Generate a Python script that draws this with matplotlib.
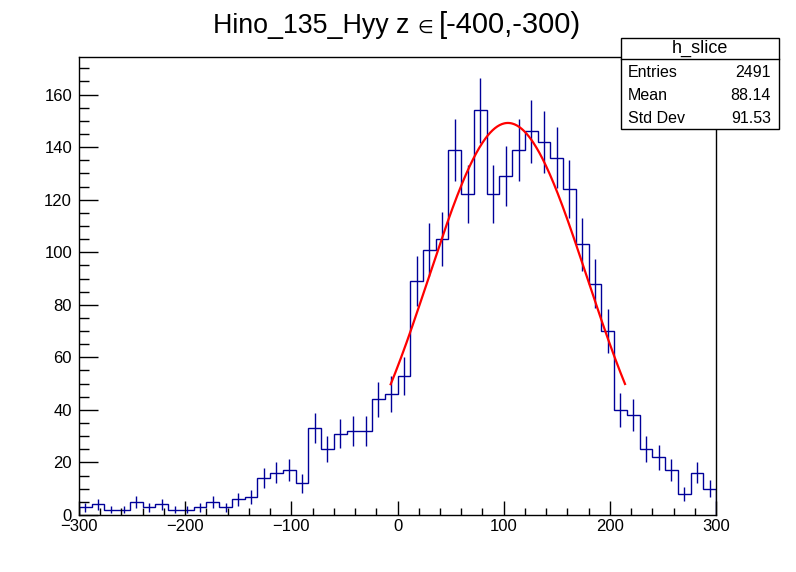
import numpy as np
import matplotlib
matplotlib.use("Agg")
import matplotlib.pyplot as plt
import matplotlib.ticker as ticker

plt.rcParams["font.family"] = ["Liberation Sans", "DejaVu Sans"]

# histogram: 50 bins of width 12 from -300 to 300
bin_lo = -300
bin_hi = 300
counts = [3, 4, 2, 2, 5, 3, 4, 2, 2, 3,
          5, 3, 6, 7, 14, 16, 17, 12, 33, 25,
          31, 32, 32, 44, 46, 53, 89, 101, 105, 139,
          122, 154, 122, 129, 139, 146, 142, 136, 124, 103,
          88, 70, 40, 38, 25, 22, 17, 8, 16, 10]

# gaussian fit (amplitude, mean, sigma) and its range
fit_amp = 149.2
fit_mean = 104.0
fit_sigma = 74.5
fit_range = (-6.4, 214.3)

title_left = "Hino_135_Hyy z"
title_sym = "\u2208"
title_right = "[-400,-300)"
stats_name = "h_slice"
stats_rows = [("Entries", "2491"), ("Mean", "88.14"), ("Std Dev", "91.53")]

HIST_COLOR = "#000099"
W, H = 796, 572

counts = np.array(counts, dtype=float)
edges = np.linspace(bin_lo, bin_hi, len(counts) + 1)
centers = 0.5 * (edges[:-1] + edges[1:])
errors = np.sqrt(counts)

fig = plt.figure(figsize=(W / 100, H / 100), dpi=100)
ax = fig.add_axes([79 / W, 1 - 515 / H, (716 - 79) / W, (515 - 57) / H])

ax.stairs(counts, edges, color=HIST_COLOR, linewidth=1.0)
ax.vlines(centers, counts - errors, counts + errors, color=HIST_COLOR, linewidth=1.0)

xf = np.linspace(fit_range[0], fit_range[1], 300)
yf = fit_amp * np.exp(-0.5 * ((xf - fit_mean) / fit_sigma) ** 2)
ax.plot(xf, yf, color="red", linewidth=1.6)

ax.set_xlim(bin_lo, bin_hi)
ax.set_ylim(0, 174.3)

ax.xaxis.set_major_locator(ticker.MultipleLocator(100))
ax.xaxis.set_minor_locator(ticker.MultipleLocator(20))
ax.yaxis.set_major_locator(ticker.MultipleLocator(20))
ax.yaxis.set_minor_locator(ticker.MultipleLocator(5))
ax.tick_params(axis="x", which="major", direction="in", length=9.8, width=1.0,
               labelsize=12, pad=3, top=False)
ax.tick_params(axis="x", which="minor", direction="in", length=4.9, width=1.0, top=False)
ax.tick_params(axis="y", which="major", direction="in", length=13.7, width=1.0,
               labelsize=12, pad=5, right=False)
ax.tick_params(axis="y", which="minor", direction="in", length=6.9, width=1.0, right=False)
for sp in ax.spines.values():
    sp.set_linewidth(1.0)

# title in three pieces so the element sign can be smaller, as in ROOT
ty = 1 - 33 / H
fig.text(213 / W, ty, title_left, ha="left", va="baseline", fontsize=19.3)
fig.text(417 / W, ty, title_sym, ha="left", va="baseline", fontsize=13)
fig.text(439 / W, ty, title_right, ha="left", va="baseline", fontsize=21)

# stats box
bx0, bx1 = 621 / W, 779 / W
by_top, by_sep, by_bot = 1 - 38 / H, 1 - 59 / H, 1 - 129 / H
box = plt.Rectangle((bx0, by_bot), bx1 - bx0, by_top - by_bot, transform=fig.transFigure,
                    facecolor="white", edgecolor="black", linewidth=1.0, zorder=5)
fig.add_artist(box)
fig.add_artist(plt.Line2D([bx0, bx1], [by_sep, by_sep], transform=fig.transFigure,
                          color="black", linewidth=1.0, zorder=6))
fig.text((bx0 + bx1) / 2, 1 - 48.5 / H, stats_name, ha="center", va="center",
         fontsize=13, zorder=7)
for i, (name, val) in enumerate(stats_rows):
    yy = 1 - (72.5 + 23 * i) / H
    fig.text(628 / W, yy, name, ha="left", va="center", fontsize=11.5, zorder=7)
    fig.text(771 / W, yy, val, ha="right", va="center", fontsize=11.5, zorder=7)

fig.savefig("out.png", dpi=100)
